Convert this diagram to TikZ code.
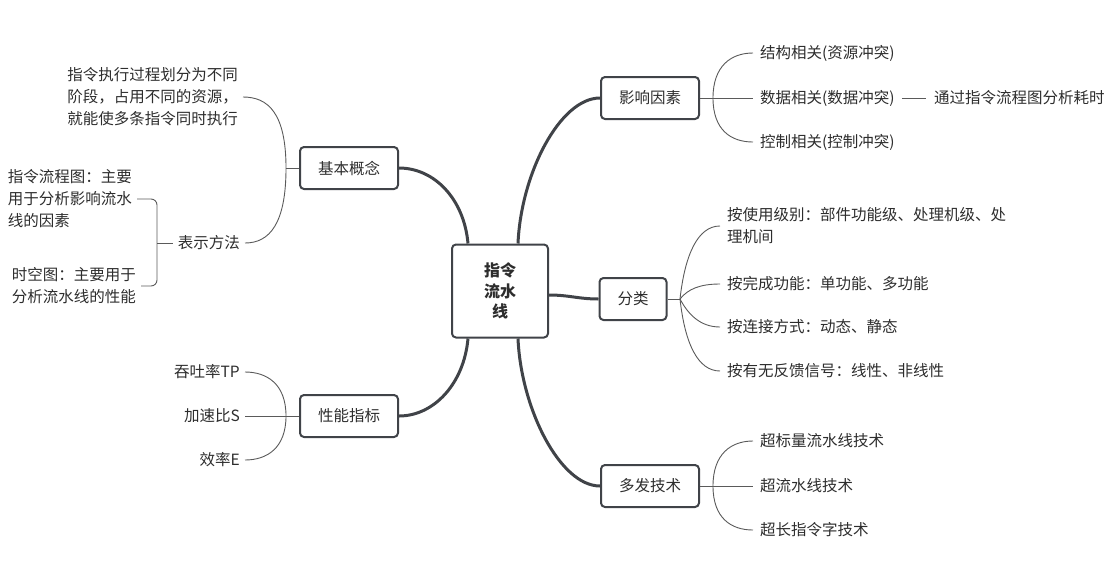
\documentclass[tikz,border=0pt]{standalone}
\usepackage{fontspec}
\setmainfont{Noto Sans CJK SC}
\definecolor{boxline}{RGB}{64,67,72}
\definecolor{twigcol}{RGB}{90,90,90}
\definecolor{ink}{RGB}{45,45,45}

\begin{document}
\begin{tikzpicture}[x=1pt,y=-1pt,
    font=\fontsize{15.5}{22}\selectfont, text=ink,
    topic/.style={draw=boxline, line width=2pt, rounded corners=4pt, inner xsep=18pt, minimum height=42pt},
    leafr/.style={anchor=west, inner xsep=7pt, align=left},
    leafl/.style={anchor=east, inner xsep=5pt, align=left},
    trunk/.style={draw=boxline, line width=3pt},
    twig/.style={draw=twigcol, line width=0.9pt}]
    \useasboundingbox (0,0) rectangle (1112,566);

    %% centre and main topics
    \node[draw=boxline, line width=2pt, rounded corners=4pt, minimum width=96pt, minimum height=93pt,
          align=center, font=\fontsize{16}{20.5}\selectfont\bfseries] (root) at (500,291) {指令\\流水\\线};
    \node[topic] (inf) at (650,98) {影响因素};
    \node[topic] (cls) at (633,299) {分类};
    \node[topic] (multi) at (650,486) {多发技术};
    \node[topic] (basic) at (349,168) {基本概念};
    \node[topic] (perf) at (349,416) {性能指标};

    \draw[trunk] (basic.east) .. controls +(35,0) and +(-4,-45) .. ([xshift=-32pt]root.north);
    \draw[trunk] ([xshift=18pt]root.north) .. controls +(3,-70) and +(-40,0) .. (inf.west);
    \draw[trunk] ([yshift=-4pt]root.east) .. controls +(20,0) and +(-20,0) .. (cls.west);
    \draw[trunk] ([xshift=18pt]root.south) .. controls +(3,70) and +(-40,0) .. (multi.west);
    \draw[trunk] (perf.east) .. controls +(35,0) and +(-4,45) .. ([xshift=-32pt]root.south);

    %% influencing factors
    \node[leafr] (s1) at (753,53) {结构相关(资源冲突)};
    \node[leafr] (s2) at (753,98) {数据相关(数据冲突)};
    \node[leafr] (s3) at (753,142) {控制相关(控制冲突)};
    \node[leafr, inner xsep=8pt] (s2x) at (926,98) {通过指令流程图分析耗时};
    \coordinate (inf-f) at (713,98);
    \draw[twig] (inf.east) -- (inf-f);
    \draw[twig] (inf-f) .. controls +(0,-32) and +(-22,0) .. (s1.west);
    \draw[twig] (inf-f) -- (s2.west);
    \draw[twig] (inf-f) .. controls +(0,32) and +(-22,0) .. (s3.west);
    \draw[twig] (s2.east) -- (s2x.west);

    %% classification
    \node[leafr] (k1) at (720,226) {按使用级别：部件功能级、处理机级、处\\理机间};
    \node[leafr] (k2) at (720,284) {按完成功能：单功能、多功能};
    \node[leafr] (k3) at (720,327) {按连接方式：动态、静态};
    \node[leafr] (k4) at (720,371) {按有无反馈信号：线性、非线性};
    \coordinate (cls-f) at (680,299);
    \draw[twig] (cls.east) -- (cls-f);
    \draw[twig] (cls-f) .. controls +(5,-45) and +(-22,0) .. (k1.west);
    \draw[twig] (cls-f) .. controls +(8,-10) and +(-20,0) .. (k2.west);
    \draw[twig] (cls-f) .. controls +(8,15) and +(-20,0) .. (k3.west);
    \draw[twig] (cls-f) .. controls +(5,45) and +(-22,0) .. (k4.west);

    %% multiple issue
    \node[leafr] (m1) at (753,441) {超标量流水线技术};
    \node[leafr] (m2) at (753,486) {超流水线技术};
    \node[leafr] (m3) at (753,530) {超长指令字技术};
    \coordinate (multi-f) at (713,486);
    \draw[twig] (multi.east) -- (multi-f);
    \draw[twig] (multi-f) .. controls +(0,-32) and +(-22,0) .. (m1.west);
    \draw[twig] (multi-f) -- (m2.west);
    \draw[twig] (multi-f) .. controls +(0,32) and +(-22,0) .. (m3.west);

    %% basic concept
    \node[leafl] (b1) at (243,97) {指令执行过程划分为不同\\阶段，占用不同的资源，\\就能使多条指令同时执行};
    \node[leafl] (pm) at (245,243) {表示方法};
    \coordinate (basic-f) at (286,168);
    \draw[twig] (basic.west) -- (basic-f);
    \draw[twig] (basic-f) .. controls +(0,-55) and +(25,0) .. (b1.east);
    \draw[twig] (basic-f) .. controls +(0,55) and +(25,0) .. (pm.east);

    \node[leafl] (flow) at (137,199) {指令流程图：主要\\用于分析影响流水\\线的因素};
    \node[leafl] (st) at (141,286) {时空图：主要用于\\分析流水线的性能};
    \coordinate (pm-f) at (157,243);
    \draw[twig] (pm.west) -- (pm-f);
    \draw[twig, rounded corners=6pt] (flow.east) -| (pm-f) |- (st.east);

    %% performance
    \node[leafl] (p1) at (245,372) {吞吐率TP};
    \node[leafl] (p2) at (245,416) {加速比S};
    \node[leafl] (p3) at (245,460) {效率E};
    \coordinate (perf-f) at (286,416);
    \draw[twig] (perf.west) -- (perf-f);
    \draw[twig] (perf-f) .. controls +(0,-32) and +(22,0) .. (p1.east);
    \draw[twig] (perf-f) -- (p2.east);
    \draw[twig] (perf-f) .. controls +(0,32) and +(22,0) .. (p3.east);

\end{tikzpicture}
\end{document}
